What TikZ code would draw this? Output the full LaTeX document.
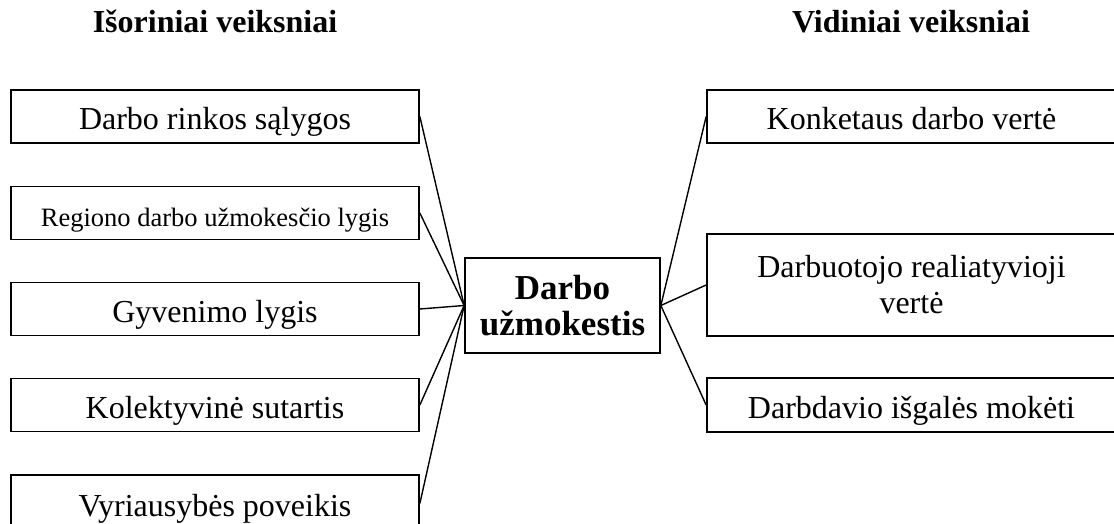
\documentclass[tikz,border=0pt]{standalone}
\usepackage{fontspec}
\setmainfont{Liberation Serif}
\begin{document}
\begin{tikzpicture}[x=1pt,y=-1pt,
  box/.style={draw, line width=1.7pt, rectangle, inner sep=0pt, align=center,
              font=\fontsize{32}{36}\selectfont},
  single/.style={text height=26pt, text depth=0pt},
  leftbox/.style={box, single, minimum width=408pt, minimum height=53pt},
  rightbox/.style={box, minimum width=409pt},
  link/.style={line width=1.4pt},
  head/.style={font=\fontsize{32}{36}\selectfont\bfseries, anchor=base, inner sep=0pt}]
\useasboundingbox (0,0) rectangle (1114,524);
\clip (0,0) rectangle (1114,524);

% column headings
\node[head] (hl) at (215,33) {Išoriniai veiksniai};
\node[head] (hr) at (911,33) {Vidiniai veiksniai};

% external factors
\node[leftbox] (l1) at (215,116.5) {Darbo rinkos sąlygos};
\node[leftbox, font=\fontsize{26.5}{30}\selectfont] (l2) at (215,213) {Regiono darbo užmokesčio lygis};
\node[leftbox] (l3) at (215,309) {Gyvenimo lygis};
\node[leftbox] (l4) at (215,405) {Kolektyvinė sutartis};
\node[leftbox, minimum height=57pt] (l5) at (215,503.5) {Vyriausybės poveikis};

% wage
\node[box, font=\fontsize{35}{36}\selectfont\bfseries,
      minimum width=195pt, minimum height=95pt] (c) at (562.5,305.5) {Darbo\\užmokestis};

% internal factors
\node[rightbox, single, minimum height=53pt] (r1) at (911.5,116.5) {Konketaus darbo vertė};
\node[rightbox, minimum height=102pt] (r2) at (911.5,285) {Darbuotojo realiatyvioji\\vertė};
\node[rightbox, single, minimum height=54pt] (r3) at (911.5,405) {Darbdavio išgalės mokėti};

% connectors
\foreach \n in {l1,l2,l3,l4,l5} \draw[link] (\n.east) -- (c.west);
\foreach \n in {r1,r2,r3} \draw[link] (c.east) -- (\n.west);
\end{tikzpicture}
\end{document}
